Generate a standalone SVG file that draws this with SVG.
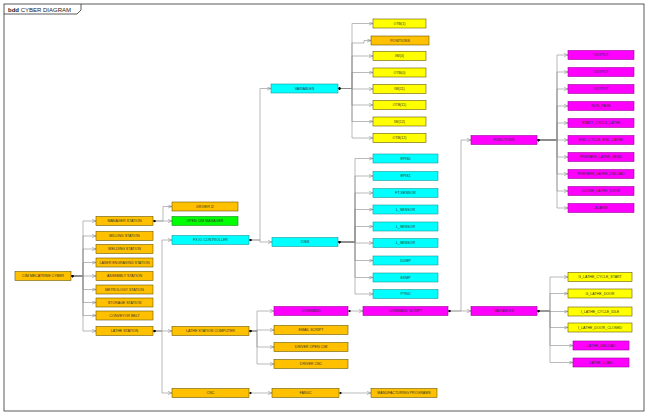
<svg xmlns="http://www.w3.org/2000/svg" width="648" height="415" viewBox="0 0 648 415">
<style>
.b rect{stroke:#6b5a00;stroke-width:0.6}
.gold rect{fill:#FFC000}
.yel rect{fill:#FFFF00}
.cy rect{fill:#00FFFF;stroke:#1a9a9a}
.mg rect{fill:#FF00FF;stroke:#9a009a}
.gr rect{fill:#00FF00;stroke:#1a8a1a}
text{font-family:"Liberation Sans",Arial,sans-serif;font-size:3.6px;fill:#333;text-anchor:middle}
#conn path{fill:none;stroke:#8c8c8c;stroke-width:0.6;marker-start:url(#dia);marker-end:url(#arr)}
</style>
<defs>
<marker id="arr" viewBox="0 0 10 10" refX="10" refY="5" markerWidth="4" markerHeight="4" markerUnits="userSpaceOnUse" orient="auto"><path d="M0,1 L10,5 L0,9" fill="none" stroke="#777" stroke-width="1.2"/></marker>
<marker id="dia" viewBox="0 0 10 10" refX="0" refY="5" markerWidth="3.5" markerHeight="3" markerUnits="userSpaceOnUse" orient="auto"><path d="M0,5 L5,1 L10,5 L5,9 Z" fill="#000"/></marker>
</defs>
<rect x="0" y="0" width="648" height="415" fill="#fff"/>
<g id="frame">
<rect x="4" y="4" width="640" height="407" fill="none" stroke="#333" stroke-width="0.8"/>
<path d="M4,14 H77 L81,10 V4" fill="none" stroke="#333" stroke-width="0.8"/>
<text x="8" y="11.5" style="font-size:6px;text-anchor:start;fill:#222"><tspan font-weight="bold">bdd</tspan> CYBER DIAGRAM</text>
</g>

<g id="conn">
<path d="M71,276 H83 V221 H96"/>
<path d="M71,276 H83 V236 H96"/>
<path d="M71,276 H83 V249 H96"/>
<path d="M71,276 H83 V262.5 H96"/>
<path d="M71,276 H96"/>
<path d="M71,276 H83 V289.5 H96"/>
<path d="M71,276 H83 V302.5 H96"/>
<path d="M71,276 H83 V315.5 H96"/>
<path d="M71,276 H83 V331 H96"/>
<path d="M153,221 H163 V206.5 H172"/>
<path d="M153,221 H172"/>
<path d="M153,331 H162 V240 H172"/>
<path d="M153,331 H172"/>
<path d="M153,331 H162 V393 H172"/>
<path d="M249,240 H260 V88.5 H271"/>
<path d="M249,240 H260 V242 H272"/>
<path d="M338,88.5 H352 V23.5 H373"/>
<path d="M338,88.5 H352 V43 H364 V40.5 H371"/>
<path d="M338,88.5 H352 V56 H373"/>
<path d="M338,88.5 H352 V72.5 H373"/>
<path d="M338,88.5 H352 V89 H373"/>
<path d="M338,88.5 H352 V105 H373"/>
<path d="M338,88.5 H352 V121.5 H373"/>
<path d="M338,88.5 H352 V138 H373"/>
<path d="M338,242 H355 V158.5 H373"/>
<path d="M338,242 H355 V176 H373"/>
<path d="M338,242 H355 V193 H373"/>
<path d="M338,242 H355 V209.5 H373"/>
<path d="M338,242 H355 V226.5 H373"/>
<path d="M338,242 H355 V243 H373"/>
<path d="M338,242 H355 V260.5 H373"/>
<path d="M338,242 H355 V277.5 H373"/>
<path d="M338,242 H355 V294 H373"/>
<path d="M249,331 H257 V311 H274"/>
<path d="M249,331 H257 V330 H274"/>
<path d="M249,331 H257 V347 H274"/>
<path d="M249,331 H257 V364 H274"/>
<path d="M348,311 H363"/>
<path d="M448,311 H461 V140 H471"/>
<path d="M448,311 H471"/>
<path d="M537,140 H557 V55 H568"/>
<path d="M537,140 H557 V72 H568"/>
<path d="M537,140 H557 V89 H568"/>
<path d="M537,140 H557 V106 H568"/>
<path d="M537,140 H557 V123 H568"/>
<path d="M537,140 H568"/>
<path d="M537,140 H557 V157 H568"/>
<path d="M537,140 H557 V174 H568"/>
<path d="M537,140 H557 V191 H568"/>
<path d="M537,140 H557 V208 H568"/>
<path d="M537,311 H550 V277 H568"/>
<path d="M537,311 H550 V293.5 H568"/>
<path d="M537,311 H550 V311.5 H568"/>
<path d="M537,311 H550 V327.5 H568"/>
<path d="M537,311 H550 V345.5 H573"/>
<path d="M537,311 H550 V362.5 H573"/>
<path d="M249,393 H272"/>
<path d="M339,393 H371"/>
</g>

<g id="root" class="b gold"><rect x="15" y="271.5" width="56" height="9"/><text x="43" y="277.3">CIM MECATRINE CYBER</text></g>

<g id="manager" class="b gold"><rect x="96" y="216.5" width="57" height="9"/><text x="124.5" y="222.3">MANAGER STATION</text></g>
<g id="milling" class="b gold"><rect x="96" y="231.5" width="57" height="9"/><text x="124.5" y="237.3">MILLING STATION</text></g>
<g id="welding" class="b gold"><rect x="96" y="244.5" width="57" height="9"/><text x="124.5" y="250.3">WELDING STATION</text></g>
<g id="laser" class="b gold"><rect x="96" y="258" width="57" height="9"/><text x="124.5" y="263.8">LASER ENGRAVING STATION</text></g>
<g id="assembly" class="b gold"><rect x="96" y="271.5" width="57" height="9"/><text x="124.5" y="277.3">ASSEMBLY STATION</text></g>
<g id="metrology" class="b gold"><rect x="96" y="285" width="57" height="9"/><text x="124.5" y="290.8">METROLOGY STATION</text></g>
<g id="storage" class="b gold"><rect x="96" y="298" width="57" height="9"/><text x="124.5" y="303.8">STORAGE STATION</text></g>
<g id="conveyor" class="b gold"><rect x="96" y="311" width="57" height="9"/><text x="124.5" y="316.8">CONVEYOR BELT</text></g>
<g id="lathe" class="b gold"><rect x="96" y="326.5" width="57" height="9"/><text x="124.5" y="332.3">LATHE STATION</text></g>

<g id="driver" class="b gold"><rect x="172" y="202" width="66" height="9"/><text x="205" y="207.8">DRIVER I2</text></g>
<g id="opencim" class="b gr"><rect x="172" y="216.5" width="66" height="9"/><text x="205" y="222.3">OPEN CIM MANAGER</text></g>
<g id="fxio" class="b cy"><rect x="172" y="235.5" width="77" height="9"/><text x="210.5" y="241.3">FX IO CONTROLLER</text></g>
<g id="lsc" class="b gold"><rect x="172" y="326.5" width="77" height="9"/><text x="210.5" y="332.3">LATHE STATION COMPUTER</text></g>
<g id="cnc" class="b gold"><rect x="172" y="388.5" width="77" height="9"/><text x="210.5" y="394.3">CNC</text></g>

<g id="variables" class="b cy"><rect x="271" y="84" width="67" height="9"/><text x="304.5" y="89.8">VARIABLES</text></g>
<g id="iobs" class="b cy"><rect x="272" y="237.5" width="66" height="9"/><text x="305" y="243.3">IOBS</text></g>

<g id="otb1" class="b yel"><rect x="373" y="19" width="53" height="9"/><text x="399.5" y="24.8">OTB(1)</text></g>
<g id="positions" class="b gold"><rect x="371" y="36" width="58" height="9"/><text x="400" y="41.8">POSITIONS</text></g>
<g id="iw0" class="b yel"><rect x="373" y="51.5" width="53" height="9"/><text x="399.5" y="57.3">IW(0)</text></g>
<g id="otb0" class="b yel"><rect x="373" y="68" width="53" height="9"/><text x="399.5" y="73.8">OTB(0)</text></g>
<g id="iw11" class="b yel"><rect x="373" y="84.5" width="53" height="9"/><text x="399.5" y="90.3">IW(11)</text></g>
<g id="otb11" class="b yel"><rect x="373" y="100.5" width="53" height="9"/><text x="399.5" y="106.3">OTB(11)</text></g>
<g id="iw12" class="b yel"><rect x="373" y="117" width="53" height="9"/><text x="399.5" y="122.8">IW(12)</text></g>
<g id="otb12" class="b yel"><rect x="373" y="133.5" width="53" height="9"/><text x="399.5" y="139.3">OTB(12)</text></g>

<g id="epis0" class="b cy"><rect x="373" y="154" width="65" height="9"/><text x="405.5" y="159.8">EPIS0</text></g>
<g id="epis1" class="b cy"><rect x="373" y="171.5" width="65" height="9"/><text x="405.5" y="177.3">EPIS1</text></g>
<g id="ftsensor" class="b cy"><rect x="373" y="188.5" width="65" height="9"/><text x="405.5" y="194.3">FT-SENSOR</text></g>
<g id="lsensor1" class="b cy"><rect x="373" y="205" width="65" height="9"/><text x="405.5" y="210.8">L_SENSOR</text></g>
<g id="lsensor2" class="b cy"><rect x="373" y="222" width="65" height="9"/><text x="405.5" y="227.8">L_SENSOR</text></g>
<g id="lsensor3" class="b cy"><rect x="373" y="238.5" width="65" height="9"/><text x="405.5" y="244.3">L_SENSOR</text></g>
<g id="dump" class="b cy"><rect x="373" y="256" width="65" height="9"/><text x="405.5" y="261.8">DUMP</text></g>
<g id="exmp" class="b cy"><rect x="373" y="273" width="65" height="9"/><text x="405.5" y="278.8">EXMP</text></g>
<g id="pynu" class="b cy"><rect x="373" y="289.5" width="65" height="9"/><text x="405.5" y="295.3">PYNU</text></g>

<g id="command" class="b mg"><rect x="274" y="306.5" width="74" height="9"/><text x="311" y="312.3">COMMAND</text></g>
<g id="email" class="b gold"><rect x="274" y="325.5" width="74" height="9"/><text x="311" y="331.3">EMAIL SCRIPT</text></g>
<g id="drvopencim" class="b gold"><rect x="274" y="342.5" width="74" height="9"/><text x="311" y="348.3">DRIVER OPEN CIM</text></g>
<g id="drvcnc" class="b gold"><rect x="274" y="359.5" width="74" height="9"/><text x="311" y="365.3">DRIVER CNC</text></g>

<g id="cmdscript" class="b mg"><rect x="363" y="306.5" width="85" height="9"/><text x="405.5" y="312.3">COMMAND SCRIPT</text></g>
<g id="functions" class="b mg"><rect x="471" y="135.5" width="66" height="9"/><text x="504" y="141.3">FUNCTIONS</text></g>
<g id="variables2" class="b mg"><rect x="471" y="306.5" width="66" height="9"/><text x="504" y="312.3">VARIABLES</text></g>

<g id="out1" class="b mg"><rect x="568" y="50.5" width="66" height="9"/><text x="601" y="56.3">OUTPUT</text></g>
<g id="out2" class="b mg"><rect x="568" y="67.5" width="66" height="9"/><text x="601" y="73.3">OUTPUT</text></g>
<g id="out3" class="b mg"><rect x="568" y="84.5" width="66" height="9"/><text x="601" y="90.3">OUTPUT</text></g>
<g id="runpage" class="b mg"><rect x="568" y="101.5" width="66" height="9"/><text x="601" y="107.3">RUN_PAGE</text></g>
<g id="startcycle" class="b mg"><rect x="568" y="118.5" width="66" height="9"/><text x="601" y="124.3">START_CYCLE_LATHE</text></g>
<g id="endcycle" class="b mg"><rect x="568" y="135.5" width="66" height="9"/><text x="601" y="141.3">END_CYCLE_END_LATHE</text></g>
<g id="prepsend" class="b mg"><rect x="568" y="152.5" width="66" height="9"/><text x="601" y="158.3">PREPARE_LATHE_SEND</text></g>
<g id="prepunload" class="b mg"><rect x="568" y="169.5" width="66" height="9"/><text x="601" y="175.3">PREPARE_LATHE_UNLOAD</text></g>
<g id="closedoor" class="b mg"><rect x="568" y="186.5" width="66" height="9"/><text x="601" y="192.3">CLOSE_LATHE_DOOR</text></g>
<g id="alarm" class="b mg"><rect x="568" y="203.5" width="66" height="9"/><text x="601" y="209.3">ALARM</text></g>

<g id="gstart" class="b yel"><rect x="568" y="272.5" width="64" height="9"/><text x="600" y="278.3">G_LATHE_CYCLE_START</text></g>
<g id="gdoor" class="b yel"><rect x="568" y="289" width="64" height="9"/><text x="600" y="294.8">G_LATHE_DOOR</text></g>
<g id="iidle" class="b yel"><rect x="568" y="307" width="64" height="9"/><text x="600" y="312.8">I_LATHE_CYCLE_IDLE</text></g>
<g id="iclosed" class="b yel"><rect x="568" y="323" width="64" height="9"/><text x="600" y="328.8">I_LATHE_DOOR_CLOSED</text></g>
<g id="unload" class="b mg"><rect x="573" y="341" width="56" height="9"/><text x="601" y="346.8">LATHE_UNLOAD</text></g>
<g id="load" class="b mg"><rect x="573" y="358" width="56" height="9"/><text x="601" y="363.8">LATHE_LOAD</text></g>

<g id="fanuc" class="b gold"><rect x="272" y="388.5" width="67" height="9"/><text x="305.5" y="394.3">FANUC</text></g>
<g id="mfg" class="b gold"><rect x="371" y="388.5" width="66" height="9"/><text x="404" y="394.3">MANUFACTURING PROGRAMS</text></g>
</svg>
